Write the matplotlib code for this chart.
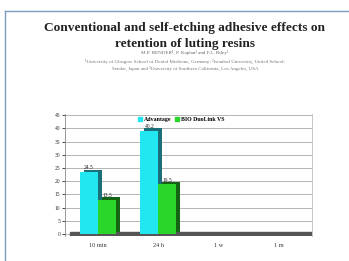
import matplotlib
matplotlib.use("Agg")
import matplotlib.pyplot as plt
from matplotlib.lines import Line2D
import numpy as np

categories = ["10 min", "24 h", "1 w", "1 m"]
advantage = [23.5, 39.2, 0, 0]
duolink = [13.0, 18.8, 0, 0]
bar_labels_adv = ["24.5", "40.2", "", ""]
bar_labels_duo = ["13.5", "19.5", "", ""]
series_names = ["Advantage", "BIO DuoLink VS"]
yticks = [0, 5, 10, 15, 20, 25, 30, 35, 40, 45]

CYAN = "#22E6F0"; CYAN_D = "#1C6E78"; GREEN = "#2BD62B"; GREEN_D = "#146414"
SERIF = "Liberation Serif"

fig = plt.figure(figsize=(3.49, 2.61), dpi=100)
fig.patch.set_facecolor("white")

# poster frame
fig.add_artist(Line2D([5/349, 1], [1 - 11/261, 1 - 11/261], color="#7F9CC0", lw=1.0))
fig.add_artist(Line2D([5/349, 5/349], [0, 1 - 11/261], color="#7F9CC0", lw=1.0))

# header texts
fig.text(0.53, 1 - 31/261, "Conventional and self-etching adhesive effects on",
         family=SERIF, weight="bold", fontsize=9.6, ha="center", va="baseline", color="#222222")
fig.text(0.53, 1 - 47/261, "retention of luting resins",
         family=SERIF, weight="bold", fontsize=9.6, ha="center", va="baseline", color="#222222")
fig.text(0.53, 1 - 54/261, "M.P. BENDER\u00b9, P. Kaplan\u00b2 and F.L. Riley\u00b3",
         family=SERIF, fontsize=3.6, ha="center", va="baseline", color="#666666")
fig.text(0.53, 1 - 63/261, "\u00b9University of Glasgow School of Dental Medicine, Germany; \u00b2Istanbul University, United School;",
         family=SERIF, fontsize=3.6, ha="center", va="baseline", color="#777777")
fig.text(0.53, 1 - 70/261, "Sendai, Japan and \u00b3University of Southern California, Los Angeles, USA",
         family=SERIF, fontsize=3.6, ha="center", va="baseline", color="#777777")

ax = fig.add_axes([65/349, 1 - 236/261, 247/349, 122/261])
ax.set_facecolor("white")
x = np.arange(len(categories))
w = 0.3
dx, dy = 0.06, 0.9

# depth sides (3D look)
ax.bar(x - w/2 + dx, np.array(advantage), w, bottom=dy, color=CYAN_D, zorder=2)
ax.bar(x + w/2 + dx, np.array(duolink), w, bottom=dy, color=GREEN_D, zorder=2)
# fronts
ax.bar(x - w/2, advantage, w, color=CYAN, zorder=3)
ax.bar(x + w/2, duolink, w, color=GREEN, zorder=3)

for i in range(len(categories)):
    if bar_labels_adv[i]:
        ax.text(x[i] - w/2, advantage[i] + 0.6, bar_labels_adv[i], ha="center", va="bottom",
                family=SERIF, fontsize=4, color="#222222", zorder=4)
    if bar_labels_duo[i]:
        ax.text(x[i] + w/2, duolink[i] + 0.6, bar_labels_duo[i], ha="center", va="bottom",
                family=SERIF, fontsize=4, color="#222222", zorder=4)

# floor
ax.axhspan(-0.8, 0.9, xmin=0.02, xmax=1.0, color="#555555", zorder=1)

ax.set_xlim(-0.55, 3.55)
ax.set_ylim(-0.8, 45.5)
ax.set_yticks(yticks)
ax.set_yticklabels([str(v) for v in yticks], family=SERIF, fontsize=4, color="#333333")
ax.set_xticks(x)
ax.set_xticklabels(categories, family=SERIF, fontsize=4.5, color="#333333")
ax.tick_params(axis="y", length=2, width=0.5, pad=1.5)
ax.tick_params(axis="x", length=0, pad=5)
ax.yaxis.grid(True, color="#AAAAAA", lw=0.6, zorder=0)
ax.set_axisbelow(True)
ax.spines["top"].set_visible(False)
ax.spines["left"].set_color("#888888"); ax.spines["left"].set_linewidth(0.6)
ax.spines["right"].set_color("#BBBBBB"); ax.spines["right"].set_linewidth(0.6)
ax.spines["bottom"].set_visible(False)

handles = [plt.Rectangle((0, 0), 1, 1, color=CYAN), plt.Rectangle((0, 0), 1, 1, color=GREEN)]
ax.legend(handles, series_names, loc="upper center", bbox_to_anchor=(0.47, 1.02), ncol=2,
          frameon=False, prop={"family": SERIF, "size": 4.2, "weight": "bold"},
          handlelength=0.7, handleheight=0.7, handletextpad=0.3, columnspacing=0.6)

fig.savefig("out.png", dpi=100)
